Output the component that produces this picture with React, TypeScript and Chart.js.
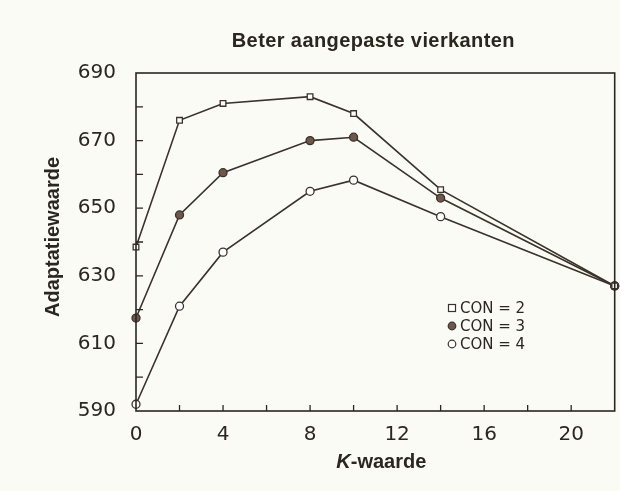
import React, { useEffect, useRef } from "react";
import { Chart, registerables } from "chart.js";

Chart.register(...registerables);

const kValues = [0, 2, 4, 8, 10, 14, 22];
const con2 = [638.5, 676, 681, 683, 678, 655.5, 627];
const con3 = [617.5, 648, 660.5, 670, 671, 653, 627];
const con4 = [592, 621, 637, 655, 658.3, 647.5, 627];
const seriesLabels = ["CON = 2", "CON = 3", "CON = 4"];
const titleText = "Beter aangepaste vierkanten";
const yTitle = "Adaptatiewaarde";
const xTitleItalic = "K";
const xTitleRest = "-waarde";

const INK = "#2b2620";
const LINE = "#3a322b";
const FILL = "#6e574b";
const BG = "#fbfbf6";
const FONT = "'DejaVu Sans', sans-serif";
const BOLD = "'Liberation Sans', Arial, sans-serif";

const decor = {
  id: "decor",
  beforeDraw(chart: any) {
    const { ctx, width, height } = chart;
    ctx.save();
    ctx.fillStyle = BG;
    ctx.fillRect(0, 0, width, height);
    ctx.restore();
  },
  afterDraw(chart: any) {
    const { ctx, chartArea: a, scales } = chart;
    const xs = scales.x;
    const ys = scales.y;
    const cx = (a.left + a.right) / 2;
    const cy = (a.top + a.bottom) / 2;
    ctx.save();
    ctx.strokeStyle = INK;
    ctx.lineWidth = 1.6;
    ctx.strokeRect(a.left, a.top, a.right - a.left, a.bottom - a.top);
    ctx.lineWidth = 1.3;
    ctx.beginPath();
    for (let v = 2; v < 22; v += 2) {
      const px = xs.getPixelForValue(v);
      ctx.moveTo(px, a.bottom);
      ctx.lineTo(px, a.bottom - 6);
    }
    for (let v = 600; v < 690; v += 10) {
      const py = ys.getPixelForValue(v);
      ctx.moveTo(a.left, py);
      ctx.lineTo(a.left + 7, py);
    }
    ctx.stroke();

    // title
    ctx.fillStyle = INK;
    ctx.font = "bold 20px " + BOLD;
    ctx.textAlign = "center";
    ctx.textBaseline = "middle";
    try { (ctx as any).letterSpacing = "0.4px"; } catch (e) {}
    ctx.fillText(titleText, cx - 2, 41);
    try { (ctx as any).letterSpacing = "0px"; } catch (e) {}

    // y title
    ctx.save();
    ctx.translate(53, cy - 5);
    ctx.rotate(-Math.PI / 2);
    ctx.font = "bold 20px " + BOLD;
    ctx.fillText(yTitle, 0, 0);
    ctx.restore();

    // x title
    ctx.textAlign = "left";
    ctx.font = "italic bold 20px " + BOLD;
    const w1 = ctx.measureText(xTitleItalic).width;
    ctx.font = "bold 20px " + BOLD;
    const w2 = ctx.measureText(xTitleRest).width;
    const sx = cx + 6 - (w1 + w2) / 2;
    ctx.font = "italic bold 20px " + BOLD;
    ctx.fillText(xTitleItalic, sx, 462);
    ctx.font = "bold 20px " + BOLD;
    ctx.fillText(xTitleRest, sx + w1, 462);

    // legend
    const lx = 452;
    const rows = [308, 326, 344];
    ctx.font = "15px " + FONT;
    ctx.lineWidth = 1.2;
    rows.forEach((ry, i) => {
      ctx.strokeStyle = LINE;
      if (i === 0) {
        ctx.fillStyle = "#ffffff";
        ctx.fillRect(lx - 3.5, ry - 3.5, 7, 7);
        ctx.strokeRect(lx - 3.5, ry - 3.5, 7, 7);
      } else {
        ctx.beginPath();
        ctx.arc(lx, ry, 3.8, 0, Math.PI * 2);
        ctx.fillStyle = i === 1 ? FILL : "#ffffff";
        ctx.fill();
        ctx.stroke();
      }
      ctx.fillStyle = INK;
      ctx.textBaseline = "middle";
      ctx.fillText(seriesLabels[i], lx + 8, ry + 1);
    });
    ctx.restore();
  },
};

function mk(label: string, data: number[], style: string, fill: string) {
  return {
    label,
    data: kValues.map((k, i) => ({ x: k, y: data[i] })),
    borderColor: LINE,
    borderWidth: 1.6,
    pointStyle: style,
    pointRadius: 4,
    pointBackgroundColor: fill,
    pointBorderColor: LINE,
    pointBorderWidth: 1.3,
    tension: 0,
    clip: 8,
  };
}

export default function App() {
  const ref = useRef<HTMLCanvasElement | null>(null);
  useEffect(() => {
    document.body.style.margin = "0";
    document.body.style.background = BG;
    const chart = new Chart(ref.current as HTMLCanvasElement, {
      type: "line",
      data: {
        datasets: [
          mk(seriesLabels[0], con2, "rect", "#ffffff"),
          mk(seriesLabels[1], con3, "circle", FILL),
          mk(seriesLabels[2], con4, "circle", "#ffffff"),
        ] as any,
      },
      options: {
        animation: false,
        responsive: false,
        layout: { padding: { top: 73, right: 1, left: 0, bottom: 0 } },
        plugins: { legend: { display: false }, tooltip: { enabled: false }, title: { display: false } },
        scales: {
          x: {
            type: "linear",
            min: 0,
            max: 22,
            grid: { display: false },
            border: { display: false },
            ticks: {
              stepSize: 2,
              autoSkip: false,
              maxRotation: 0,
              padding: 4,
              color: INK,
              font: { family: FONT, size: 20 },
              callback: (v: any) => (Number(v) % 4 === 0 && Number(v) <= 20 ? String(v) : ""),
            },
            afterFit: (s: any) => {
              s.height = 80;
            },
          },
          y: {
            min: 590,
            max: 690,
            grid: { display: false },
            border: { display: false },
            ticks: {
              stepSize: 10,
              autoSkip: false,
              padding: 12,
              color: INK,
              font: { family: FONT, size: 20 },
              callback: (v: any) => ((Number(v) - 590) % 20 === 0 ? String(v) : ""),
            },
            afterFit: (s: any) => {
              s.width = 136;
            },
          },
        },
      },
      plugins: [decor],
    });
    return () => chart.destroy();
  }, []);
  return (
    <div style={{ position: "absolute", left: 0, top: 0, width: 620, height: 491, background: BG }}>
      <canvas ref={ref} width={620} height={491} style={{ width: 620, height: 491 }} />
    </div>
  );
}
